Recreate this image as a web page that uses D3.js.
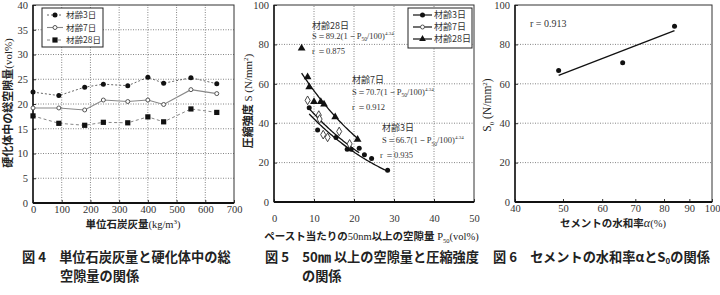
<!DOCTYPE html>
<html>
<head>
<meta charset="utf-8">
<script src="https://cdn.jsdelivr.net/npm/d3@7"></script>
<style>
  body { margin: 0; background: #fff; }
  svg { display: block; }
</style>
</head>
<body>
<svg id="chart" width="720" height="295"></svg>
<script>
const JP = '"Noto Sans CJK JP", sans-serif';
const SERIF = '"Liberation Serif", "DejaVu Serif", serif';

// ---- 図4: coal ash amount vs. total void volume
const ashAmount = [0, 90, 180, 245, 330, 400, 455, 550, 640];
const voidAge3 = [22.4, 21.7, 23.4, 24.0, 23.7, 25.4, 24.2, 25.3, 24.1];
const voidAge7 = [19.2, 19.2, 18.8, 20.8, 20.5, 20.8, 19.9, 22.9, 22.1];
const voidAge28 = [17.6, 16.1, 15.7, 16.3, 16.2, 17.4, 16.4, 19.0, 18.3];
const ashTicks = [0, 100, 200, 300, 400, 500, 600, 700];
const voidTicks = [0, 5, 10, 15, 20, 25, 30, 35, 40];

// ---- 図5: pore volume >50nm vs. compressive strength
const p50Age3 = [8.8, 10.9, 15.5, 18.3, 19.3, 21.3, 22.6, 24.4, 28.4];
const strAge3 = [47.9, 36.5, 32.8, 26.8, 26.8, 27.3, 24.0, 22.1, 16.1];
const p50Age7 = [8.4, 11.2, 11.4, 12.3, 13.4, 16.3, 18.9];
const strAge7 = [51.6, 44.1, 42.1, 34.2, 32.8, 35.8, 29.5];
const p50Age28 = [6.9, 8.4, 8.8, 10.0, 11.7, 12.5, 15.3, 20.9];
const strAge28 = [78.0, 63.5, 58.4, 50.9, 50.9, 49.6, 43.2, 31.7];
// fitted curves S = S0 (1 - P50/100)^n
const fitLabels = ['材齢28日', '材齢7日', '材齢3日'];
const fitS0 = [89.2, 70.7, 66.7];
const fitExp = ['4.34', '4.34', '4.34'];
const fitR = ['0.875', '0.912', '0.935'];
const fitFrom = [6.9, 8.8, 8.8];
const fitTo = [20.9, 21.5, 28.4];
const p50Ticks = [0, 10, 20, 30, 40, 50];
const strTicks = [0, 20, 40, 60, 80, 100];

// ---- 図6: hydration rate vs. S0
const hydration = [49, 66, 84];
const s0Values = [66.7, 70.7, 89.2];
const hydTicks = [40, 50, 60, 70, 80, 90, 100];
const s0Ticks = [0, 20, 40, 60, 80, 100];
const s0R = '0.913';

const ageNames = ['材齢3日', '材齢7日', '材齢28日'];

const svg = d3.select('#chart');

// grid + frame + ticks for one panel
function panel(x, y, o) {
  const g = svg.append('g');
  const [xa, xb] = x.range();
  const [ya, yb] = y.range();
  g.append('g').selectAll('line').data(o.xGrid || []).join('line')
    .attr('x1', d => x(d)).attr('x2', d => x(d)).attr('y1', ya).attr('y2', yb)
    .attr('stroke', '#666').attr('stroke-width', 0.8).attr('stroke-dasharray', '1,1.5');
  g.append('g').selectAll('line').data(o.yGrid || []).join('line')
    .attr('y1', d => y(d)).attr('y2', d => y(d)).attr('x1', xa).attr('x2', xb)
    .attr('stroke', '#666').attr('stroke-width', 0.8).attr('stroke-dasharray', '1,1.5');

  const ax = g.append('g').attr('transform', `translate(0,${ya})`)
    .call(d3.axisBottom(x).tickValues(o.xTicks).tickSize(-3).tickPadding(o.xPad).tickFormat(d3.format('d')));
  const ay = g.append('g').attr('transform', `translate(${xa},0)`)
    .call(d3.axisLeft(y).tickValues(o.yTicks).tickSize(-3).tickPadding(o.yPad).tickFormat(d3.format('d')));
  [ax, ay].forEach(a => {
    a.select('.domain').remove();
    a.selectAll('line').attr('stroke', '#333');
    a.selectAll('text').attr('font-family', SERIF).attr('font-size', 10.5).attr('fill', '#333');
  });

  g.append('rect').attr('x', xa).attr('y', yb).attr('width', xb - xa).attr('height', ya - yb)
    .attr('fill', 'none').attr('stroke', '#333').attr('stroke-width', 1);
  g.append('line').attr('x1', xa).attr('x2', xb).attr('y1', ya).attr('y2', ya)
    .attr('stroke', '#111').attr('stroke-width', 1.8);
  g.append('line').attr('x1', xa).attr('x2', xa).attr('y1', ya).attr('y2', yb)
    .attr('stroke', '#111').attr('stroke-width', 1.4);
  return g;
}

function marker(g, type, cx, cy, s) {
  if (type === 'dot') {
    g.append('circle').attr('cx', cx).attr('cy', cy).attr('r', 2.5).attr('fill', '#111');
  } else if (type === 'ring') {
    g.append('circle').attr('cx', cx).attr('cy', cy).attr('r', 2).attr('fill', '#fff')
      .attr('stroke', '#555').attr('stroke-width', 1);
  } else if (type === 'square') {
    g.append('rect').attr('x', cx - 2.6).attr('y', cy - 2.6).attr('width', 5.2).attr('height', 5.2).attr('fill', '#111');
  } else if (type === 'diamond') {
    g.append('path').attr('transform', `translate(${cx},${cy})`)
      .attr('d', d3.symbol(d3.symbolDiamond, s || 22)()).attr('fill', '#fff')
      .attr('stroke', '#333').attr('stroke-width', 0.9);
  } else if (type === 'triangle') {
    g.append('path').attr('transform', `translate(${cx},${cy})`)
      .attr('d', d3.symbol(d3.symbolTriangle, s || 26)()).attr('fill', '#111');
  }
}

// text made of pieces
function richText(parent, x, y, parts, attrs) {
  const t = parent.append('text').attr('x', x).attr('y', y).attr('fill', '#222');
  Object.entries(attrs || {}).forEach(([k, v]) => t.attr(k, v));
  parts.forEach(p => {
    const ts = t.append('tspan').text(p.t).attr('font-family', p.f || JP);
    if (p.s) ts.attr('font-size', p.s);
    if (p.w) ts.attr('font-weight', p.w);
    if (p.dy) ts.attr('dy', p.dy);
    if (p.st) ts.attr('font-style', p.st);
  });
  return t;
}

// ================= 図4 =================
const x1 = d3.scaleLinear().domain([0, 700]).range([33, 234]);
const y1 = d3.scaleLinear().domain([0, 40]).range([203, 5]);
const g1 = panel(x1, y1, {
  xGrid: ashTicks.slice(1, -1), yGrid: voidTicks.slice(1, -1),
  xTicks: ashTicks, yTicks: voidTicks, xPad: 3, yPad: 5
});

const series1 = [
  { v: voidAge3, m: 'dot', stroke: '#555', dash: '2,2', w: 0.9 },
  { v: voidAge7, m: 'ring', stroke: '#888', dash: null, w: 1.1 },
  { v: voidAge28, m: 'square', stroke: '#777', dash: '3,2.5', w: 0.9 }
];
series1.forEach(s => {
  g1.append('path')
    .attr('d', d3.line().x((d, i) => x1(ashAmount[i])).y(d => y1(d))(s.v))
    .attr('fill', 'none').attr('stroke', s.stroke).attr('stroke-width', s.w)
    .attr('stroke-dasharray', s.dash);
  s.v.forEach((d, i) => marker(g1, s.m, x1(ashAmount[i]), y1(d)));
});

// legend 1
const lg1 = svg.append('g');
lg1.append('rect').attr('x', 42).attr('y', 8).attr('width', 61).attr('height', 39)
  .attr('fill', '#fff').attr('stroke', '#222').attr('stroke-width', 1);
series1.forEach((s, i) => {
  const ly = 15 + i * 12.5;
  lg1.append('line').attr('x1', 47).attr('x2', 63).attr('y1', ly).attr('y2', ly)
    .attr('stroke', s.stroke).attr('stroke-width', s.w).attr('stroke-dasharray', s.dash);
  marker(lg1, s.m, 55, ly);
  lg1.append('text').attr('x', 66).attr('y', ly + 3.2).attr('font-family', JP)
    .attr('font-size', 8.5).attr('fill', '#333').text(ageNames[i]);
});

richText(svg, 0, 0, [
  { t: '硬化体中の総空隙量', w: 'bold' },
  { t: '(vol%)', f: SERIF }
], { 'font-size': 11, 'text-anchor': 'middle', transform: 'translate(12,103) rotate(-90)' });

richText(svg, 133, 227.5, [
  { t: '単位石炭灰量', w: 'bold' },
  { t: '(kg/m', f: SERIF },
  { t: '3', f: SERIF, s: 7, dy: -4 },
  { t: ')', f: SERIF, dy: 4 }
], { 'font-size': 10.5, 'text-anchor': 'middle' });

// ================= 図5 =================
const x2 = d3.scaleLinear().domain([0, 50]).range([274, 474]);
const y2 = d3.scaleLinear().domain([0, 100]).range([202, 5]);
const g2 = panel(x2, y2, {
  xGrid: p50Ticks.slice(1, -1), yGrid: strTicks.slice(1, -1),
  xTicks: p50Ticks, yTicks: strTicks, xPad: 13, yPad: 5
});

// fitted curves
fitS0.forEach((s0, i) => {
  const n = +fitExp[i];
  const pts = d3.range(fitFrom[i], fitTo[i] + 0.01, 0.25).map(p => [p, s0 * Math.pow(1 - p / 100, n)]);
  g2.append('path').attr('d', d3.line().x(d => x2(d[0])).y(d => y2(d[1]))(pts))
    .attr('fill', 'none').attr('stroke', '#111').attr('stroke-width', 1.3);
});

p50Age3.forEach((p, i) => marker(g2, 'dot', x2(p), y2(strAge3[i])));
p50Age7.forEach((p, i) => marker(g2, 'diamond', x2(p), y2(strAge7[i])));
p50Age28.forEach((p, i) => marker(g2, 'triangle', x2(p), y2(strAge28[i])));

// annotations
const annPos = [[312, 28.5, 38.5, 54], [352, 83, 94.5, 110], [382, 131, 143, 158]];
fitS0.forEach((s0, i) => {
  const [ax, yl, yf, yr] = annPos[i];
  svg.append('text').attr('x', ax).attr('y', yl).attr('font-family', JP).attr('font-size', 9)
    .attr('fill', '#333').text(fitLabels[i]);
  richText(svg, ax, yf, [
    { t: `S＝${s0}(1－P`, f: SERIF },
    { t: '50', f: SERIF, s: 5.5, dy: 2.5 },
    { t: '/100)', f: SERIF, dy: -2.5 },
    { t: fitExp[i], f: SERIF, s: 5, dy: -4 }
  ], { 'font-size': 8.5, fill: '#333' });
  richText(svg, ax - (i === 2 ? 2 : 0), yr, [{ t: `r ＝${fitR[i]}`, f: SERIF }], { 'font-size': 8.5, fill: '#333' });
});

// legend 2
const lg2 = svg.append('g');
lg2.append('rect').attr('x', 408).attr('y', 8).attr('width', 64).attr('height', 40)
  .attr('fill', '#fff').attr('stroke', '#222').attr('stroke-width', 1);
['dot', 'ring', 'triangle'].forEach((m, i) => {
  const ly = 15 + i * 12;
  lg2.append('line').attr('x1', 413).attr('x2', 432).attr('y1', ly).attr('y2', ly)
    .attr('stroke', '#111').attr('stroke-width', 1.2);
  marker(lg2, m, 422.5, ly, 20);
  lg2.append('text').attr('x', 434).attr('y', ly + 3.3).attr('font-family', JP)
    .attr('font-size', 9).attr('fill', '#333').text(ageNames[i]);
});

richText(svg, 0, 0, [
  { t: '圧縮強度', w: 'bold' },
  { t: ' S (N/mm', f: SERIF },
  { t: '2', f: SERIF, s: 7, dy: -4 },
  { t: ')', f: SERIF, dy: 4 }
], { 'font-size': 11, 'text-anchor': 'middle', transform: 'translate(252,101) rotate(-90)' });

richText(svg, 371.5, 240, [
  { t: 'ペースト当たりの', w: 'bold' },
  { t: '50nm', f: SERIF },
  { t: '以上の空隙量', w: 'bold' },
  { t: ' P', f: SERIF },
  { t: '50', f: SERIF, s: 6.5, dy: 2.5 },
  { t: '(vol%)', f: SERIF, dy: -2.5 }
], { 'font-size': 10.5, 'text-anchor': 'middle' });

// ================= 図6 =================
const x3 = d3.scaleLog().domain([40, 100]).range([515, 712]);
const y3 = d3.scaleLinear().domain([0, 100]).range([202, 5]);
const g3 = panel(x3, y3, {
  xGrid: [], yGrid: s0Ticks.slice(1, -1),
  xTicks: hydTicks, yTicks: s0Ticks, xPad: 3, yPad: 5
});

// least squares line through the three points
const mx = d3.mean(hydration), my = d3.mean(s0Values);
const sxy = d3.sum(hydration, (h, i) => (h - mx) * (s0Values[i] - my));
const sxx = d3.sum(hydration, h => (h - mx) * (h - mx));
const slope = sxy / sxx;
const ends = d3.extent(hydration);
g3.append('path')
  .attr('d', d3.line().x(d => x3(d)).y(d => y3(my + slope * (d - mx)))(ends))
  .attr('fill', 'none').attr('stroke', '#111').attr('stroke-width', 1.3);
hydration.forEach((h, i) => marker(g3, 'dot', x3(h), y3(s0Values[i])));

richText(svg, 530, 27, [{ t: `r = ${s0R}`, f: SERIF }], { 'font-size': 10, fill: '#333' });

richText(svg, 0, 0, [
  { t: 'S', f: SERIF },
  { t: '0', f: SERIF, s: 7, dy: 2.5 },
  { t: ' (N/mm', f: SERIF, dy: -2.5 },
  { t: '2', f: SERIF, s: 7, dy: -4 },
  { t: ')', f: SERIF, dy: 4 }
], { 'font-size': 11.5, 'text-anchor': 'middle', transform: 'translate(491,105) rotate(-90)' });

richText(svg, 613, 227, [
  { t: 'セメントの水和率', w: 'bold' },
  { t: 'α', f: SERIF, st: 'italic', s: 12 },
  { t: '(%)', f: SERIF }
], { 'font-size': 10.5, 'text-anchor': 'middle' });

// ================= captions =================
const capStyle = { 'font-size': 13.2, 'font-weight': 'bold', fill: '#222' };
richText(svg, 22, 262, [{ t: '図 4　単位石炭灰量と硬化体中の総' }], capStyle);
richText(svg, 60, 280.5, [{ t: '空隙量の関係' }], capStyle);
richText(svg, 265, 262, [{ t: '図 5　50㎚ 以上の空隙量と圧縮強度' }], capStyle);
richText(svg, 302, 280.5, [{ t: 'の関係' }], capStyle);
richText(svg, 493, 262, [
  { t: '図 6　セメントの水和率αとS' },
  { t: '0', s: 8, dy: 2 },
  { t: 'の関係', dy: -2 }
], capStyle);
</script>
</body>
</html>
